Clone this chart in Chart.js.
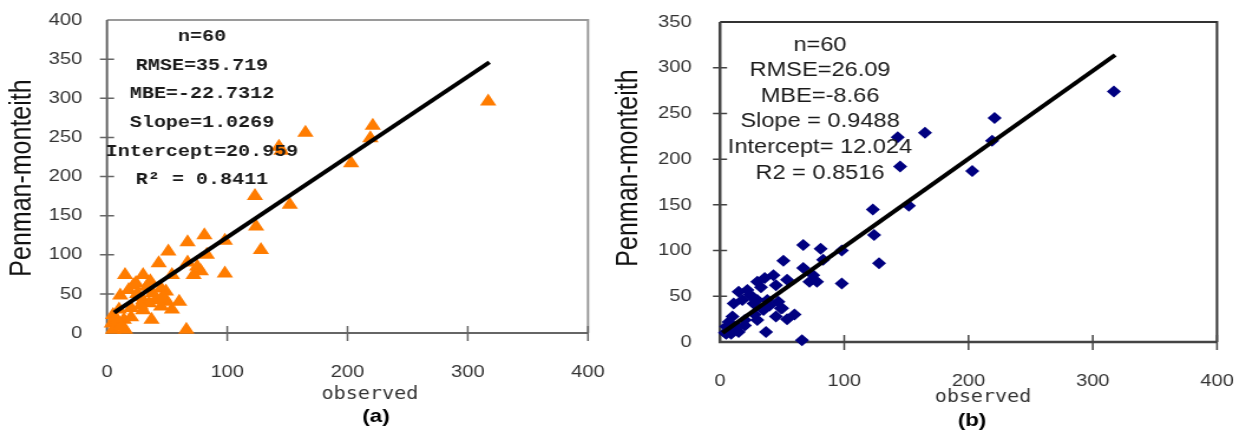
<!DOCTYPE html>
<html>
<head>
<meta charset="utf-8">
<script src="https://cdn.jsdelivr.net/npm/chart.js@4.4.1/dist/chart.umd.min.js"></script>
<style>
  html, body { margin: 0; padding: 0; background: #fff; }
  #wrap { position: relative; width: 1243px; height: 435px; overflow: hidden; }
  .pane { position: absolute; top: 0; transform-origin: 0 0; transform: scaleX(1.18); }
  #paneA { left: 0; }
  #paneB { left: 610px; }
</style>
</head>
<body>
<div id="wrap">
  <div class="pane" id="paneA"><canvas id="chartA" width="517" height="435"></canvas></div>
  <div class="pane" id="paneB"><canvas id="chartB" width="536" height="435"></canvas></div>
</div>
<script>
// the original figure is stretched sideways, so each canvas is drawn narrow and widened by css
const SX = 1.18;

// observed values (shared by both panels)
const observed = [
  317, 221, 219, 203, 165, 143, 145, 152, 123, 124,
  128,  98,  98,  81,  67,  83,  75,  72,  78,  51,
   67,  43,  54,  30,  15,  22,  11,  37,  66,  54,
   50,   4,  30,  40,  45,  33,  38,  27,  49,  45,
   30,  20,   5,  14,   9,   5,  15,  36,  18,  25,
   10,   8,  12,  35,  28,  47,  20,  60,   7,  24
];
// panel (a) Penman-monteith
const pmA = [
  296, 265, 249, 217, 256, 238, 233, 164, 175, 136,
  106, 118,  76, 125, 116, 100,  85,  74,  79, 104,
   90,  89,  74,  74,  74,  61,  48,  17,   4,  30,
   40,  12,  42,  42,  57,  59,  51,  46,  53,  34,
   29,  32,  23,  17,   8,   4,   4,  66,  55,  50,
   30,  15,  10,  38,  35,  46,  20,  40,  20,  64
];
// panel (b) Penman-monteith
const pmB = [
  274, 245, 220, 187, 229, 224, 192, 149, 145, 117,
   86, 100,  64, 102, 106,  90,  73,  66,  66,  89,
   81,  73,  68,  66,  55,  57,  42,  11,   2,  25,
   37,  10,  46,  40,  62,  60,  46,  42,  37,  28,
   24,  24,  17,  17,   9,   9,  11,  70,  46,  50,
   28,  12,  14,  35,  30,  44,  18,  30,  22,  52
];
// fitted line end points
const fitXA = [6, 318];
const fitYA = [26, 346];
const fitXB = [2, 318];
const fitYB = [10, 314];

const xTicks = [0, 100, 200, 300, 400];
const yTicksA = [0, 50, 100, 150, 200, 250, 300, 350, 400];
const yTicksB = [0, 50, 100, 150, 200, 250, 300, 350];

const statsA = ['n=60', 'RMSE=35.719', 'MBE=-22.7312', 'Slope=1.0269', 'Intercept=20.959', 'R\u00b2 = 0.8411'];
const statsB = ['n=60', 'RMSE=26.09', 'MBE=-8.66', 'Slope = 0.9488', 'Intercept= 12.024', 'R2 = 0.8516'];

const xTitle = 'observed';
const yTitle = 'Penman-monteith';

const pairs = (xs, ys) => xs.map((v, i) => ({ x: v, y: ys[i] }));

const frame = {
  id: 'frame',
  beforeDatasetsDraw(chart, args, o) {
    const { ctx, chartArea: a, scales: { x, y } } = chart;
    ctx.save();
    ctx.strokeStyle = o.boxColor;
    ctx.lineWidth = o.boxWidth;
    ctx.beginPath();
    ctx.moveTo(a.left, a.top);
    ctx.lineTo(a.right, a.top);
    ctx.lineTo(a.right, a.bottom);
    ctx.stroke();
    ctx.strokeStyle = o.axisColor;
    ctx.lineWidth = o.axisWidth;
    ctx.beginPath();
    ctx.moveTo(a.left, a.top);
    ctx.lineTo(a.left, a.bottom);
    ctx.lineTo(a.right, a.bottom);
    ctx.stroke();
    // tick marks cross the axis lines
    ctx.lineWidth = 1.5;
    ctx.beginPath();
    y.ticks.forEach(t => {
      if (t.value === y.min || t.value === y.max) return;
      const p = y.getPixelForValue(t.value);
      ctx.moveTo(a.left - 6, p);
      ctx.lineTo(a.left + 6, p);
    });
    x.ticks.forEach(t => {
      if (t.value === x.min) return;
      const p = x.getPixelForValue(t.value);
      ctx.moveTo(p, a.bottom - 7);
      ctx.lineTo(p, a.bottom + 8);
    });
    ctx.stroke();
    ctx.restore();
  },
  afterDraw(chart, args, o) {
    const { ctx } = chart;
    ctx.save();
    ctx.textAlign = 'center';
    ctx.textBaseline = 'middle';
    ctx.fillStyle = '#1a1a1a';
    ctx.font = o.statFont;
    o.stats.forEach((s, i) => ctx.fillText(s, o.statX / SX, o.statY + i * o.statGap));
    ctx.fillStyle = '#333';
    ctx.font = '17px "DejaVu Sans Mono"';
    ctx.fillText(xTitle, o.xTitleX / SX, o.xTitleY);
    ctx.fillStyle = '#000';
    ctx.font = 'bold 19px "Liberation Sans"';
    ctx.fillText(o.caption, o.capX / SX, o.capY);
    ctx.translate(o.yTitleX / SX, o.yTitleY);
    ctx.rotate(-Math.PI / 2);
    ctx.fillStyle = '#111';
    ctx.font = '25px "Liberation Sans"';
    ctx.fillText(yTitle, 0, 0);
    ctx.restore();
  }
};

function makeChart(id, c) {
  return new Chart(document.getElementById(id), {
    type: 'scatter',
    data: {
      datasets: [
        {
          type: 'line',
          data: pairs(c.fitX, c.fitY),
          borderColor: '#000',
          borderWidth: 4,
          pointRadius: 0,
          fill: false,
          clip: false
        },
        {
          data: pairs(observed, c.values),
          pointStyle: c.marker,
          pointRadius: c.radius,
          backgroundColor: c.color,
          borderColor: c.color,
          borderWidth: 0,
          clip: false
        }
      ]
    },
    options: {
      responsive: false,
      animation: false,
      layout: { padding: { left: 0, right: c.padRight, top: c.top, bottom: 0 } },
      scales: {
        x: {
          type: 'linear',
          min: 0,
          max: 400,
          afterBuildTicks: s => { s.ticks = xTicks.map(v => ({ value: v })); },
          afterFit: s => { s.height = c.xHeight; s.paddingLeft = 0; s.paddingRight = 0; },
          grid: { display: false, drawTicks: false },
          border: { display: false },
          ticks: { padding: 29, color: '#333', font: { family: 'Liberation Sans', size: 17 } }
        },
        y: {
          type: 'linear',
          min: 0,
          max: c.yTicks[c.yTicks.length - 1],
          afterBuildTicks: s => { s.ticks = c.yTicks.map(v => ({ value: v })); },
          afterFit: s => { s.width = c.left; s.paddingTop = 0; s.paddingBottom = 0; },
          grid: { display: false, drawTicks: false },
          border: { display: false },
          ticks: { padding: c.yPad, color: '#333', font: { family: 'Liberation Sans', size: 17 } }
        }
      },
      plugins: {
        legend: { display: false },
        tooltip: { enabled: false },
        frame: c.frame
      }
    },
    plugins: [frame]
  });
}

makeChart('chartA', {
  values: pmA, fitX: fitXA, fitY: fitYA, yTicks: yTicksA,
  marker: 'triangle', radius: 8, color: '#FF7C00',
  left: 107 / SX, padRight: 517 - 588 / SX, top: 20, xHeight: 435 - 333, yPad: 21,
  frame: {
    boxColor: '#9a9a9a', boxWidth: 2, axisColor: '#666', axisWidth: 2,
    stats: statsA, statFont: 'bold 17px "Liberation Mono"', statX: 202, statY: 37, statGap: 28.6,
    xTitleX: 370, xTitleY: 395, caption: '(a)', capX: 376, capY: 417,
    yTitleX: 22, yTitleY: 178
  }
});

makeChart('chartB', {
  values: pmB, fitX: fitXB, fitY: fitYB, yTicks: yTicksB,
  marker: 'rectRot', radius: 6, color: '#000080',
  left: 110 / SX, padRight: 536 - 607 / SX, top: 22, xHeight: 435 - 342, yPad: 24,
  frame: {
    boxColor: '#333', boxWidth: 2, axisColor: '#444', axisWidth: 2.5,
    stats: statsB, statFont: '20px "Liberation Sans"', statX: 210, statY: 45, statGap: 25.6,
    xTitleX: 373, xTitleY: 398, caption: '(b)', capX: 362, capY: 421,
    yTitleX: 19, yTitleY: 168
  }
});
</script>
</body>
</html>
